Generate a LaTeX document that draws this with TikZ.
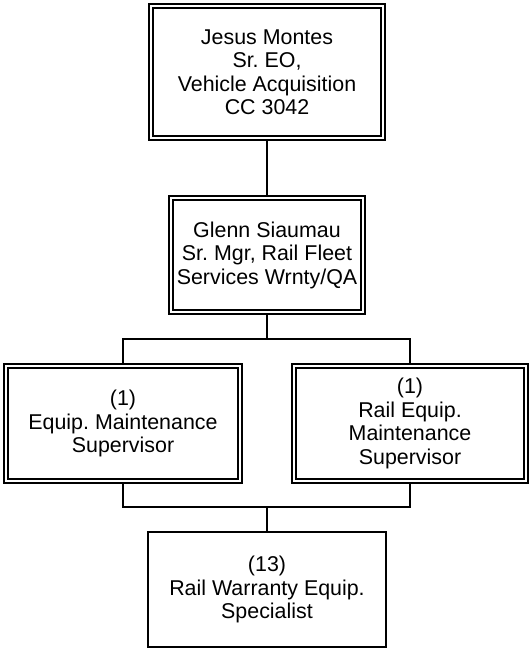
\documentclass[tikz,border=0pt]{standalone}
\usepackage{fontspec}
\setmainfont{Liberation Sans}
\usetikzlibrary{positioning,backgrounds}
\frenchspacing

\begin{document}
\begin{tikzpicture}[x=1pt, y=-1pt,
  every node/.style={font=\fontsize{21.4}{23.5}\selectfont, align=center, inner sep=0pt},
  dbox/.style={draw, double, double distance=2pt, line width=1.8pt, fill=white},
  sbox/.style={draw, line width=2pt, fill=white},
  link/.style={line width=2pt}]
\useasboundingbox (0,0) rectangle (531,652);
\node[dbox, minimum width=232.4pt, minimum height=132.4pt] (exec) at (267,72) {Jesus Montes\\Sr. EO,\\Vehicle Acquisition\\CC 3042};
\node[dbox, minimum width=192pt, minimum height=114.4pt] (mgr) at (267,255) {Glenn Siaumau\\Sr. Mgr, Rail Fleet\\Services Wrnty/QA};
\node[dbox, minimum width=234.4pt, minimum height=115.4pt] (lsup) at (123,423.5) {(1)\\Equip. Maintenance\\Supervisor};
\node[dbox, minimum width=232.4pt, minimum height=115.4pt] (rsup) at (410,423.5) {(1)\\Rail Equip.\\Maintenance\\Supervisor};
\node[sbox, minimum width=238pt, minimum height=115pt] (spec) at (267,589.5) {(13)\\Rail Warranty Equip.\\Specialist};
\coordinate (tbus) at (267,339);
\coordinate (bbus) at (267,507);
\begin{scope}[on background layer]
\draw[link] (exec) -- (mgr);
\draw[link] (mgr.south) -- (tbus);
\draw[link] (lsup.north) |- (tbus) -| (rsup.north);
\draw[link] (lsup.south) |- (bbus) -| (rsup.south);
\draw[link] (bbus) -- (spec.north);
\end{scope}
\end{tikzpicture}
\end{document}
